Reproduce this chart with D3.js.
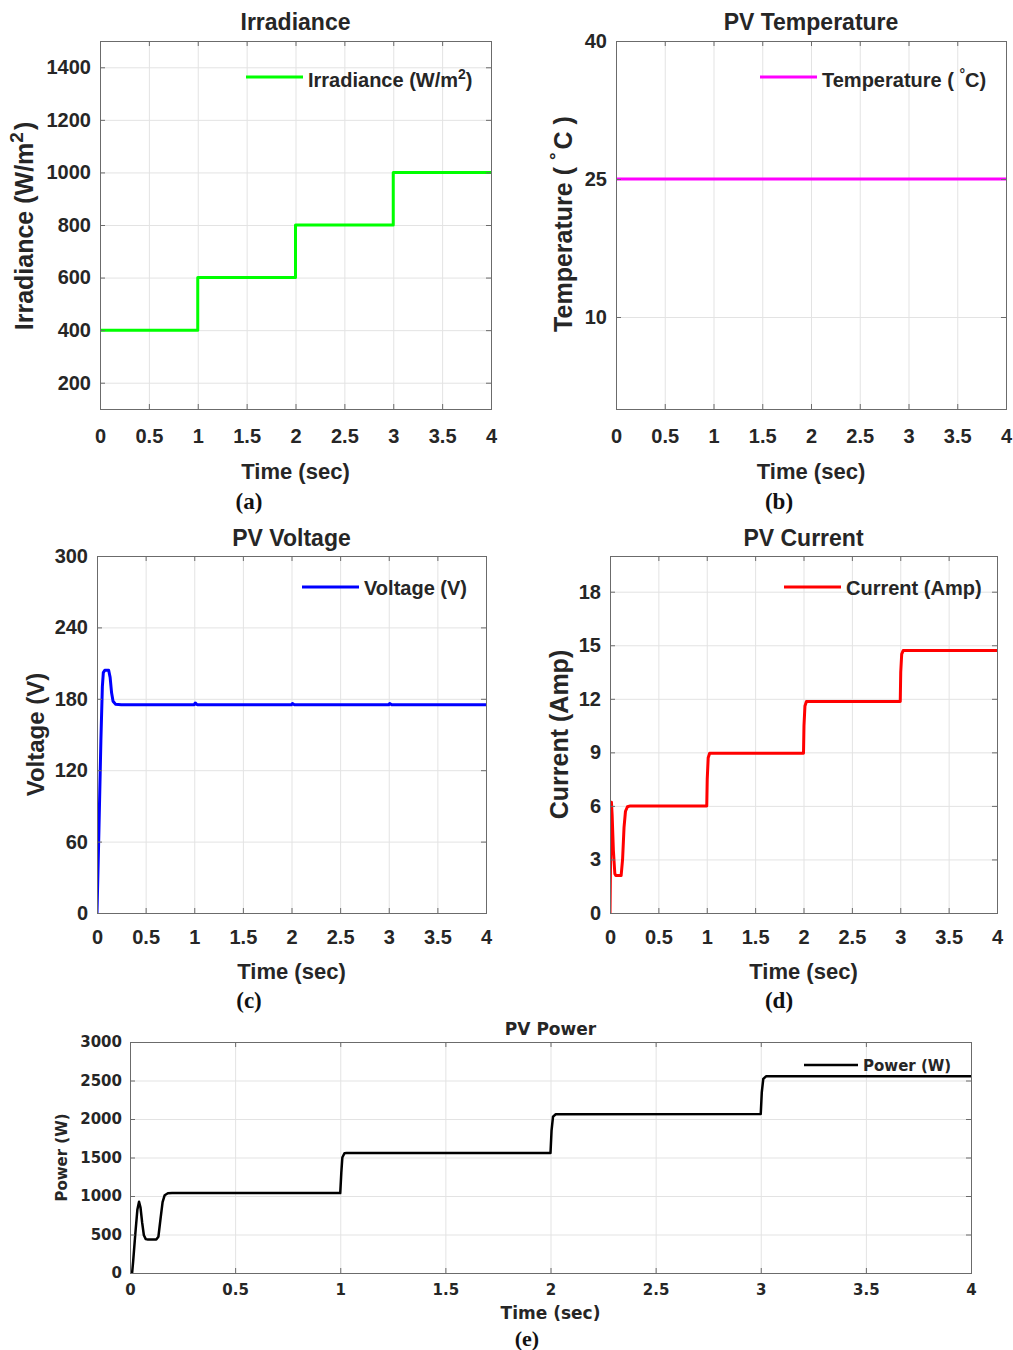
<!DOCTYPE html>
<html><head><meta charset="utf-8">
<script src="https://cdn.jsdelivr.net/npm/d3@7"></script>
<style>body{margin:0;background:#fff}svg{display:block}</style>
</head><body>
<svg id="chart" width="1013" height="1350"></svg>
<script>
// ---------- data ----------
const timeTicks = [0, 0.5, 1, 1.5, 2, 2.5, 3, 3.5, 4];

const irrTicks = [200, 400, 600, 800, 1000, 1200, 1400];
const irrTime  = [0, 1, 1, 2, 2, 3, 3, 4];
const irrValue = [400, 400, 600, 600, 800, 800, 1000, 1000];

const tempTicks = [10, 25, 40];
const tempTime  = [0, 4];
const tempValue = [25, 25];

const voltTicks = [0, 60, 120, 180, 240, 300];
const voltTime  = [0, 0.02, 0.04, 0.055, 0.065, 0.08, 0.12, 0.135, 0.15, 0.165, 0.19, 0.25, 1.0, 1.01, 1.03, 2.0, 2.01, 2.03, 3.0, 3.01, 3.03, 4];
const voltValue = [0, 70, 145, 190, 202, 204, 204, 198, 185, 178, 175.5, 175, 175, 176.5, 175, 175, 176, 175, 175, 176, 175, 175];

const currTicks = [0, 3, 6, 9, 12, 15, 18];
const currTime  = [0, 0.008, 0.015, 0.022, 0.035, 0.05, 0.06, 0.115, 0.13, 0.145, 0.16, 0.18, 0.21, 1.0, 1.005, 1.015, 1.03, 2.0, 2.005, 2.015, 2.03, 3.0, 3.005, 3.015, 3.03, 4];
const currValue = [0, 4, 6.2, 5.5, 3.5, 2.2, 2.1, 2.1, 3.0, 4.8, 5.7, 5.95, 6.0, 6.0, 7.5, 8.7, 8.95, 8.95, 10.5, 11.6, 11.85, 11.85, 13.5, 14.5, 14.7, 14.7];

const powTicks = [0, 500, 1000, 1500, 2000, 2500, 3000];
const powTime  = [0, 0.01, 0.015, 0.025, 0.035, 0.043, 0.05, 0.058, 0.066, 0.075, 0.085, 0.125, 0.135, 0.145, 0.155, 0.165, 0.18, 0.2, 1.0, 1.005, 1.01, 1.02, 1.03, 2.0, 2.005, 2.012, 2.025, 3.0, 3.005, 3.012, 3.025, 4];
const powValue = [0, 0, 150, 500, 820, 926, 850, 650, 490, 440, 435, 435, 470, 700, 920, 1010, 1035, 1038, 1038, 1300, 1500, 1555, 1558, 1558, 1850, 2030, 2062, 2065, 2350, 2520, 2555, 2555];

// ---------- drawing ----------
const svg = d3.select("#chart");
const SANS = "'Liberation Sans', Arial, Helvetica, sans-serif";
const WIDE = "'DejaVu Sans', Verdana, sans-serif";
const SERIF = "'Liberation Serif', 'Times New Roman', serif";
const TXT = "#262626";
const GRID = "#e3e3e3";
const BOX = "#6b6b6b";

function panel(o) {
  const g = svg.append("g");
  const x = d3.scaleLinear().domain([0, 4]).range([o.x0, o.x1]);
  const y = d3.scaleLinear().domain(o.yDomain).range([o.y1, o.y0]);
  const W = o.x1 - o.x0, H = o.y1 - o.y0;
  const clipId = "clip" + o.id;
  svg.append("clipPath").attr("id", clipId).append("rect")
    .attr("x", o.x0).attr("y", o.y0).attr("width", W).attr("height", H);

  // grid
  g.append("g").attr("transform", `translate(0,${o.y1})`)
    .call(d3.axisBottom(x).tickValues(timeTicks.filter(t => t > 0 && t < 4)).tickSize(-H).tickFormat(""))
    .call(s => { s.select(".domain").remove(); s.selectAll("line").attr("stroke", GRID); });
  g.append("g").attr("transform", `translate(${o.x0},0)`)
    .call(d3.axisLeft(y).tickValues(o.yTicks.filter(v => v > o.yDomain[0] && v < o.yDomain[1])).tickSize(-W).tickFormat(""))
    .call(s => { s.select(".domain").remove(); s.selectAll("line").attr("stroke", GRID); });

  // data line
  const pts = o.t.map((t, i) => [t, o.v[i]]);
  g.append("path").datum(pts)
    .attr("clip-path", `url(#${clipId})`)
    .attr("fill", "none").attr("stroke", o.color).attr("stroke-width", o.lw)
    .attr("stroke-linejoin", "round").attr("stroke-linecap", "round")
    .attr("d", d3.line().x(d => x(d[0])).y(d => y(d[1])));

  // box
  g.append("rect").attr("x", o.x0 + 0.5).attr("y", o.y0 + 0.5).attr("width", W).attr("height", H)
    .attr("fill", "none").attr("stroke", BOX).attr("stroke-width", 1);

  const style = s => {
    s.select(".domain").remove();
    s.selectAll("line").attr("stroke", BOX);
    s.selectAll("text").attr("fill", TXT).attr("font-family", o.font).attr("font-size", o.tickFs).attr("font-weight", "bold");
    s.attr("font-family", null).attr("font-size", null);
  };
  // bottom ticks with labels
  g.append("g").attr("transform", `translate(0,${o.y1})`)
    .call(d3.axisBottom(x).tickValues(timeTicks).tickSize(-5).tickPadding(o.xPad).tickFormat(d => String(d)))
    .call(style);
  // top ticks
  g.append("g").attr("transform", `translate(0,${o.y0})`)
    .call(d3.axisTop(x).tickValues(timeTicks).tickSize(-5).tickFormat(""))
    .call(style);
  // left ticks with labels
  g.append("g").attr("transform", `translate(${o.x0},0)`)
    .call(d3.axisLeft(y).tickValues(o.yTicks).tickSize(-5).tickPadding(o.yPad).tickFormat(d => String(d)))
    .call(style);
  // right ticks
  g.append("g").attr("transform", `translate(${o.x1},0)`)
    .call(d3.axisRight(y).tickValues(o.yTicks).tickSize(-5).tickFormat(""))
    .call(style);

  const cx = (o.x0 + o.x1) / 2, cy = (o.y0 + o.y1) / 2;
  // title
  g.append("text").attr("x", cx).attr("y", o.titleY).attr("text-anchor", "middle")
    .attr("font-family", o.font).attr("font-weight", "bold").attr("font-size", o.titleFs).attr("fill", TXT)
    .text(o.title);
  // x label
  g.append("text").attr("x", cx).attr("y", o.xLabY).attr("text-anchor", "middle")
    .attr("font-family", o.font).attr("font-weight", "bold").attr("font-size", o.labFs).attr("fill", TXT)
    .text("Time (sec)");
  // y label
  const yl = g.append("text").attr("transform", `translate(${o.yLabX},${o.yLabCy || cy}) rotate(-90)`).attr("text-anchor", "middle")
    .attr("font-family", o.font).attr("font-weight", "bold").attr("font-size", o.yLabFs).attr("fill", TXT);
  o.yLabel(yl);
  // legend
  g.append("line").attr("x1", o.legX).attr("x2", o.legX + o.legLen).attr("y1", o.legY).attr("y2", o.legY)
    .attr("stroke", o.color).attr("stroke-width", o.lw);
  const lt = g.append("text").attr("x", o.legX + o.legLen + 5).attr("y", o.legY + o.legDy)
    .attr("font-family", o.font).attr("font-weight", "bold").attr("font-size", o.legFs).attr("fill", TXT);
  o.legLabel(lt);
  // panel letter
  svg.append("text").attr("x", o.letterX).attr("y", o.letterY).attr("text-anchor", "middle")
    .attr("font-family", SERIF).attr("font-weight", "bold").attr("font-size", o.letterFs).attr("fill", "#111")
    .text(o.letter);
}

const topCommon = { font: SANS, tickFs: 20, titleFs: 23, labFs: 22, yLabFs: 24, legFs: 20, lw: 3, xPad: 20, yPad: 9, legDy: 10, legLen: 57, letterFs: 23 };

panel(Object.assign({}, topCommon, {
  id: "a", x0: 100, x1: 491, y0: 41, y1: 409, yDomain: [100, 1500], yTicks: irrTicks,
  t: irrTime, v: irrValue, color: "#00ff00", title: "Irradiance", titleY: 30, xLabY: 479, yLabX: 33, yLabFs: 25, yLabCy: 226,
  yLabel: t => { t.append("tspan").text("Irradiance (W/m"); t.append("tspan").attr("baseline-shift", "super").attr("font-size", 19).text("2"); t.append("tspan").attr("dx", 2).text(")"); },
  legX: 246, legY: 77, legLabel: t => { t.append("tspan").text("Irradiance (W/m"); t.append("tspan").attr("baseline-shift", "super").attr("font-size", 14).text("2"); t.append("tspan").text(")"); },
  letter: "(a)", letterX: 249, letterY: 509
}));

panel(Object.assign({}, topCommon, {
  id: "b", x0: 616, x1: 1006, y0: 41, y1: 409, yDomain: [0, 40], yTicks: tempTicks,
  t: tempTime, v: tempValue, color: "#ff00ff", title: "PV Temperature", titleY: 30, xLabY: 479, yLabX: 572, yLabFs: 25, yLabCy: 224,
  yLabel: t => { t.append("tspan").text("Temperature (  "); t.append("tspan").attr("baseline-shift", "super").attr("font-size", 19).text("°"); t.append("tspan").attr("dx", 3).text("C  )"); },
  legX: 760, legY: 77, legLabel: t => { t.append("tspan").text("Temperature ( "); t.append("tspan").attr("baseline-shift", "super").attr("font-size", 14).text("°"); t.append("tspan").text("C)"); },
  letter: "(b)", letterX: 779, letterY: 509
}));

panel(Object.assign({}, topCommon, {
  id: "c", x0: 97, x1: 486, y0: 556, y1: 913, yDomain: [0, 300], yTicks: voltTicks, xPad: 17, legDy: 8,
  t: voltTime, v: voltValue, color: "#0000ff", title: "PV Voltage", titleY: 546, xLabY: 979, yLabX: 44,
  yLabel: t => t.text("Voltage (V)"),
  legX: 302, legY: 587, legLabel: t => t.text("Voltage (V)"),
  letter: "(c)", letterX: 249, letterY: 1008
}));

panel(Object.assign({}, topCommon, {
  id: "d", x0: 610, x1: 997, y0: 556, y1: 913, yDomain: [0, 20], yTicks: currTicks, xPad: 17, legDy: 8,
  t: currTime, v: currValue, color: "#ff0000", title: "PV Current", titleY: 546, xLabY: 979, yLabX: 568, yLabFs: 25,
  yLabel: t => t.text("Current (Amp)"),
  legX: 784, legY: 587, legLabel: t => t.text("Current (Amp)"),
  letter: "(d)", letterX: 779, letterY: 1008
}));

panel({
  id: "e", font: WIDE, tickFs: 15, titleFs: 17, labFs: 17, yLabFs: 15, legFs: 15, lw: 2.5, xPad: 11, yPad: 8, legDy: 6, legLen: 54, letterFs: 22,
  x0: 130, x1: 971, y0: 1042, y1: 1273, yDomain: [0, 3000], yTicks: powTicks,
  t: powTime, v: powValue, color: "#000000", title: "PV Power", titleY: 1035, xLabY: 1319, yLabX: 67,
  yLabel: t => t.text("Power (W)"),
  legX: 804, legY: 1065, legLabel: t => t.text("Power (W)"),
  letter: "(e)", letterX: 527, letterY: 1346
});
</script>
</body></html>
